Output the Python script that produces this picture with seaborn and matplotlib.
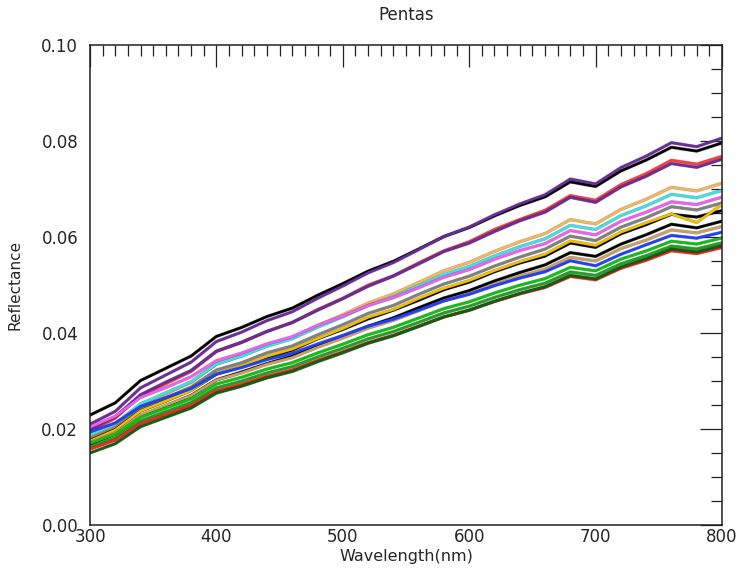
import numpy as np
import pandas as pd
import matplotlib
matplotlib.use("Agg")
import matplotlib.pyplot as plt
import matplotlib.patheffects as pe
from matplotlib.colors import to_rgb
import seaborn as sns
from matplotlib.ticker import MultipleLocator, FormatStrFormatter

wavelength = [300, 320, 340, 360, 380, 400, 420, 440, 460, 480, 500, 520, 540,
              560, 580, 600, 620, 640, 660, 680, 700, 720, 740, 760, 780, 800]

black_1 = [0.02290, 0.02545, 0.03010, 0.03265, 0.03520, 0.03929, 0.04116, 0.04343, 0.04518, 0.04785, 0.05029, 0.05289, 0.05494,
           0.05749, 0.06010, 0.06197, 0.06440, 0.06656, 0.06837, 0.07149, 0.07053, 0.07376, 0.07603, 0.07869, 0.07790, 0.07960]
purple_1 = [0.02100, 0.02368, 0.02857, 0.03125, 0.03393, 0.03822, 0.04019, 0.04258, 0.04442, 0.04722, 0.04979, 0.05253, 0.05467,
            0.05736, 0.06010, 0.06206, 0.06463, 0.06689, 0.06880, 0.07208, 0.07106, 0.07446, 0.07685, 0.07965, 0.07881, 0.08060]
red_1 = [0.01960, 0.02227, 0.02696, 0.02944, 0.03201, 0.03613, 0.03802, 0.04031, 0.04218, 0.04487, 0.04723, 0.04996, 0.05192,
         0.05459, 0.05712, 0.05901, 0.06157, 0.06364, 0.06557, 0.06862, 0.06765, 0.07091, 0.07320, 0.07598, 0.07518, 0.07680]
purple_2 = [0.02000, 0.02253, 0.02714, 0.02977, 0.03220, 0.03624, 0.03810, 0.04034, 0.04219, 0.04473, 0.04714, 0.04973, 0.05185,
            0.05438, 0.05697, 0.05872, 0.06114, 0.06337, 0.06517, 0.06826, 0.06721, 0.07041, 0.07266, 0.07530, 0.07451, 0.07620]
orange_1 = [0.01820, 0.02059, 0.02493, 0.02732, 0.02970, 0.03352, 0.03527, 0.03739, 0.03903, 0.04152, 0.04380, 0.04624, 0.04815,
            0.05053, 0.05297, 0.05472, 0.05700, 0.05901, 0.06071, 0.06362, 0.06272, 0.06574, 0.06786, 0.07035, 0.06961, 0.07120]
cyan_1 = [0.01880, 0.02109, 0.02526, 0.02755, 0.02985, 0.03351, 0.03519, 0.03723, 0.03880, 0.04120, 0.04338, 0.04573, 0.04756,
          0.04985, 0.05219, 0.05387, 0.05606, 0.05799, 0.05962, 0.06242, 0.06156, 0.06446, 0.06649, 0.06889, 0.06817, 0.06970]
magenta_1 = [0.02040, 0.02266, 0.02658, 0.02864, 0.03089, 0.03424, 0.03582, 0.03774, 0.03922, 0.04158, 0.04354, 0.04574, 0.04736,
             0.04942, 0.05162, 0.05320, 0.05536, 0.05718, 0.05862, 0.06135, 0.06044, 0.06327, 0.06518, 0.06733, 0.06676, 0.06830]
grey_1 = [0.01800, 0.02021, 0.02424, 0.02645, 0.02875, 0.03229, 0.03381, 0.03587, 0.03730, 0.03960, 0.04172, 0.04407, 0.04574,
          0.04805, 0.05021, 0.05183, 0.05394, 0.05581, 0.05748, 0.06018, 0.05924, 0.06204, 0.06401, 0.06631, 0.06563, 0.06710]
black_2 = [0.01760, 0.01986, 0.02378, 0.02584, 0.02809, 0.03144, 0.03302, 0.03494, 0.03642, 0.03878, 0.04074, 0.04294, 0.04476,
           0.04682, 0.04902, 0.05060, 0.05276, 0.05458, 0.05602, 0.05875, 0.05784, 0.06067, 0.06258, 0.06473, 0.06416, 0.06550]
yellow_1 = [0.01750, 0.01978, 0.02376, 0.02584, 0.02802, 0.03152, 0.03312, 0.03516, 0.03666, 0.03884, 0.04093, 0.04326, 0.04490,
            0.04718, 0.04932, 0.05092, 0.05300, 0.05485, 0.05640, 0.05916, 0.05824, 0.06100, 0.06294, 0.06480, 0.06300, 0.06680]
black_3 = [0.01680, 0.01899, 0.02271, 0.02480, 0.02699, 0.03024, 0.03187, 0.03363, 0.03517, 0.03736, 0.03936, 0.04140, 0.04317,
           0.04526, 0.04730, 0.04884, 0.05084, 0.05260, 0.05419, 0.05675, 0.05596, 0.05851, 0.06047, 0.06266, 0.06190, 0.06330]
tan_1 = [0.01720, 0.01922, 0.02292, 0.02494, 0.02696, 0.03020, 0.03169, 0.03349, 0.03488, 0.03700, 0.03893, 0.04100, 0.04262,
         0.04465, 0.04672, 0.04820, 0.05014, 0.05185, 0.05329, 0.05576, 0.05500, 0.05756, 0.05936, 0.06148, 0.06085, 0.06220]
blue_1 = [0.01940, 0.02127, 0.02468, 0.02656, 0.02843, 0.03142, 0.03280, 0.03446, 0.03575, 0.03770, 0.03949, 0.04141, 0.04290,
          0.04478, 0.04669, 0.04806, 0.04985, 0.05143, 0.05276, 0.05505, 0.05400, 0.05640, 0.05838, 0.06033, 0.05975, 0.06100]
green_1 = [0.01700, 0.01893, 0.02244, 0.02436, 0.02629, 0.02937, 0.03078, 0.03249, 0.03382, 0.03583, 0.03767, 0.03964, 0.04118,
           0.04311, 0.04508, 0.04649, 0.04833, 0.04996, 0.05133, 0.05368, 0.05295, 0.05539, 0.05710, 0.05912, 0.05852, 0.05980]
green_2 = [0.01630, 0.01821, 0.02170, 0.02361, 0.02552, 0.02858, 0.02998, 0.03168, 0.03300, 0.03500, 0.03683, 0.03878, 0.04031,
           0.04222, 0.04418, 0.04558, 0.04741, 0.04902, 0.05038, 0.05272, 0.05200, 0.05442, 0.05612, 0.05812, 0.05752, 0.05880]
red_2 = [0.01580, 0.01769, 0.02113, 0.02302, 0.02491, 0.02794, 0.02932, 0.03100, 0.03231, 0.03428, 0.03609, 0.03802, 0.03953,
         0.04142, 0.04335, 0.04474, 0.04654, 0.04814, 0.04948, 0.05179, 0.05108, 0.05347, 0.05515, 0.05713, 0.05654, 0.05780]
darkgreen_1 = [0.01500, 0.01694, 0.02049, 0.02243, 0.02437, 0.02748, 0.02891, 0.03064, 0.03198, 0.03401, 0.03587, 0.03785, 0.03941,
               0.04135, 0.04334, 0.04476, 0.04662, 0.04826, 0.04965, 0.05202, 0.05129, 0.05375, 0.05548, 0.05751, 0.05690, 0.05820]

series = {
    "black_1": black_1, "purple_1": purple_1, "red_1": red_1, "purple_2": purple_2,
    "orange_1": orange_1, "cyan_1": cyan_1, "magenta_1": magenta_1, "grey_1": grey_1,
    "black_2": black_2, "yellow_1": yellow_1, "black_3": black_3, "tan_1": tan_1,
    "blue_1": blue_1, "green_1": green_1, "green_2": green_2, "red_2": red_2,
    "darkgreen_1": darkgreen_1,
}
colors = {
    "black_1": "#000000", "purple_1": "#6B2C9A", "red_1": "#FF3A3A", "purple_2": "#6B2C9A",
    "orange_1": "#F7B55A", "cyan_1": "#40E0E0", "magenta_1": "#F060F0", "grey_1": "#808080",
    "black_2": "#000000", "yellow_1": "#F0C000", "black_3": "#000000", "tan_1": "#C8A064",
    "blue_1": "#2040FF", "green_1": "#10C010", "green_2": "#20A020", "red_2": "#FF2020",
    "darkgreen_1": "#106010",
}

df = pd.DataFrame([(name, w, v) for name, vals in series.items() for w, v in zip(wavelength, vals)],
                  columns=["series", "wavelength", "reflectance"])

sns.set_style("white")
plt.rcParams["font.family"] = ["DejaVu Sans"]
fig = plt.figure(figsize=(7.39, 5.72), dpi=100)
ax = fig.add_axes([90/739, 1-525/572, 632/739, 480/572])
sns.lineplot(data=df, x="wavelength", y="reflectance", hue="series", palette=colors,
             legend=False, lw=1.8, ax=ax)
for line in ax.lines:
    c = np.array(to_rgb(line.get_color())) * 0.45
    line.set_path_effects([pe.Stroke(linewidth=2.4, foreground=c, alpha=0.5), pe.Normal()])

ax.set_xlim(300, 800)
ax.set_ylim(0, 0.1)
ax.xaxis.set_major_locator(MultipleLocator(100))
ax.xaxis.set_minor_locator(MultipleLocator(10))
ax.yaxis.set_major_locator(MultipleLocator(0.02))
ax.yaxis.set_minor_locator(MultipleLocator(0.005))
ax.yaxis.set_major_formatter(FormatStrFormatter("%.2f"))
ax.tick_params(which="both", direction="in", top=True, right=True, color="#222222", width=0.9, labelsize=12)
ax.tick_params(which="major", length=16)
ax.tick_params(which="minor", length=8)
ax.tick_params(axis="y", pad=8.5)
ax.tick_params(axis="x", pad=2.5)
for s in ax.spines.values():
    s.set_color("#222222")
    s.set_linewidth(1.1)
ax.set_title("Pentas", fontsize=12, pad=18)
ax.set_xlabel("Wavelength(nm)", fontsize=11.5)
ax.set_ylabel("Reflectance", fontsize=11)
ax.xaxis.set_label_coords(0.5, -0.049)
ax.yaxis.set_label_coords(-0.107, 0.5)
fig.savefig("out.png")
